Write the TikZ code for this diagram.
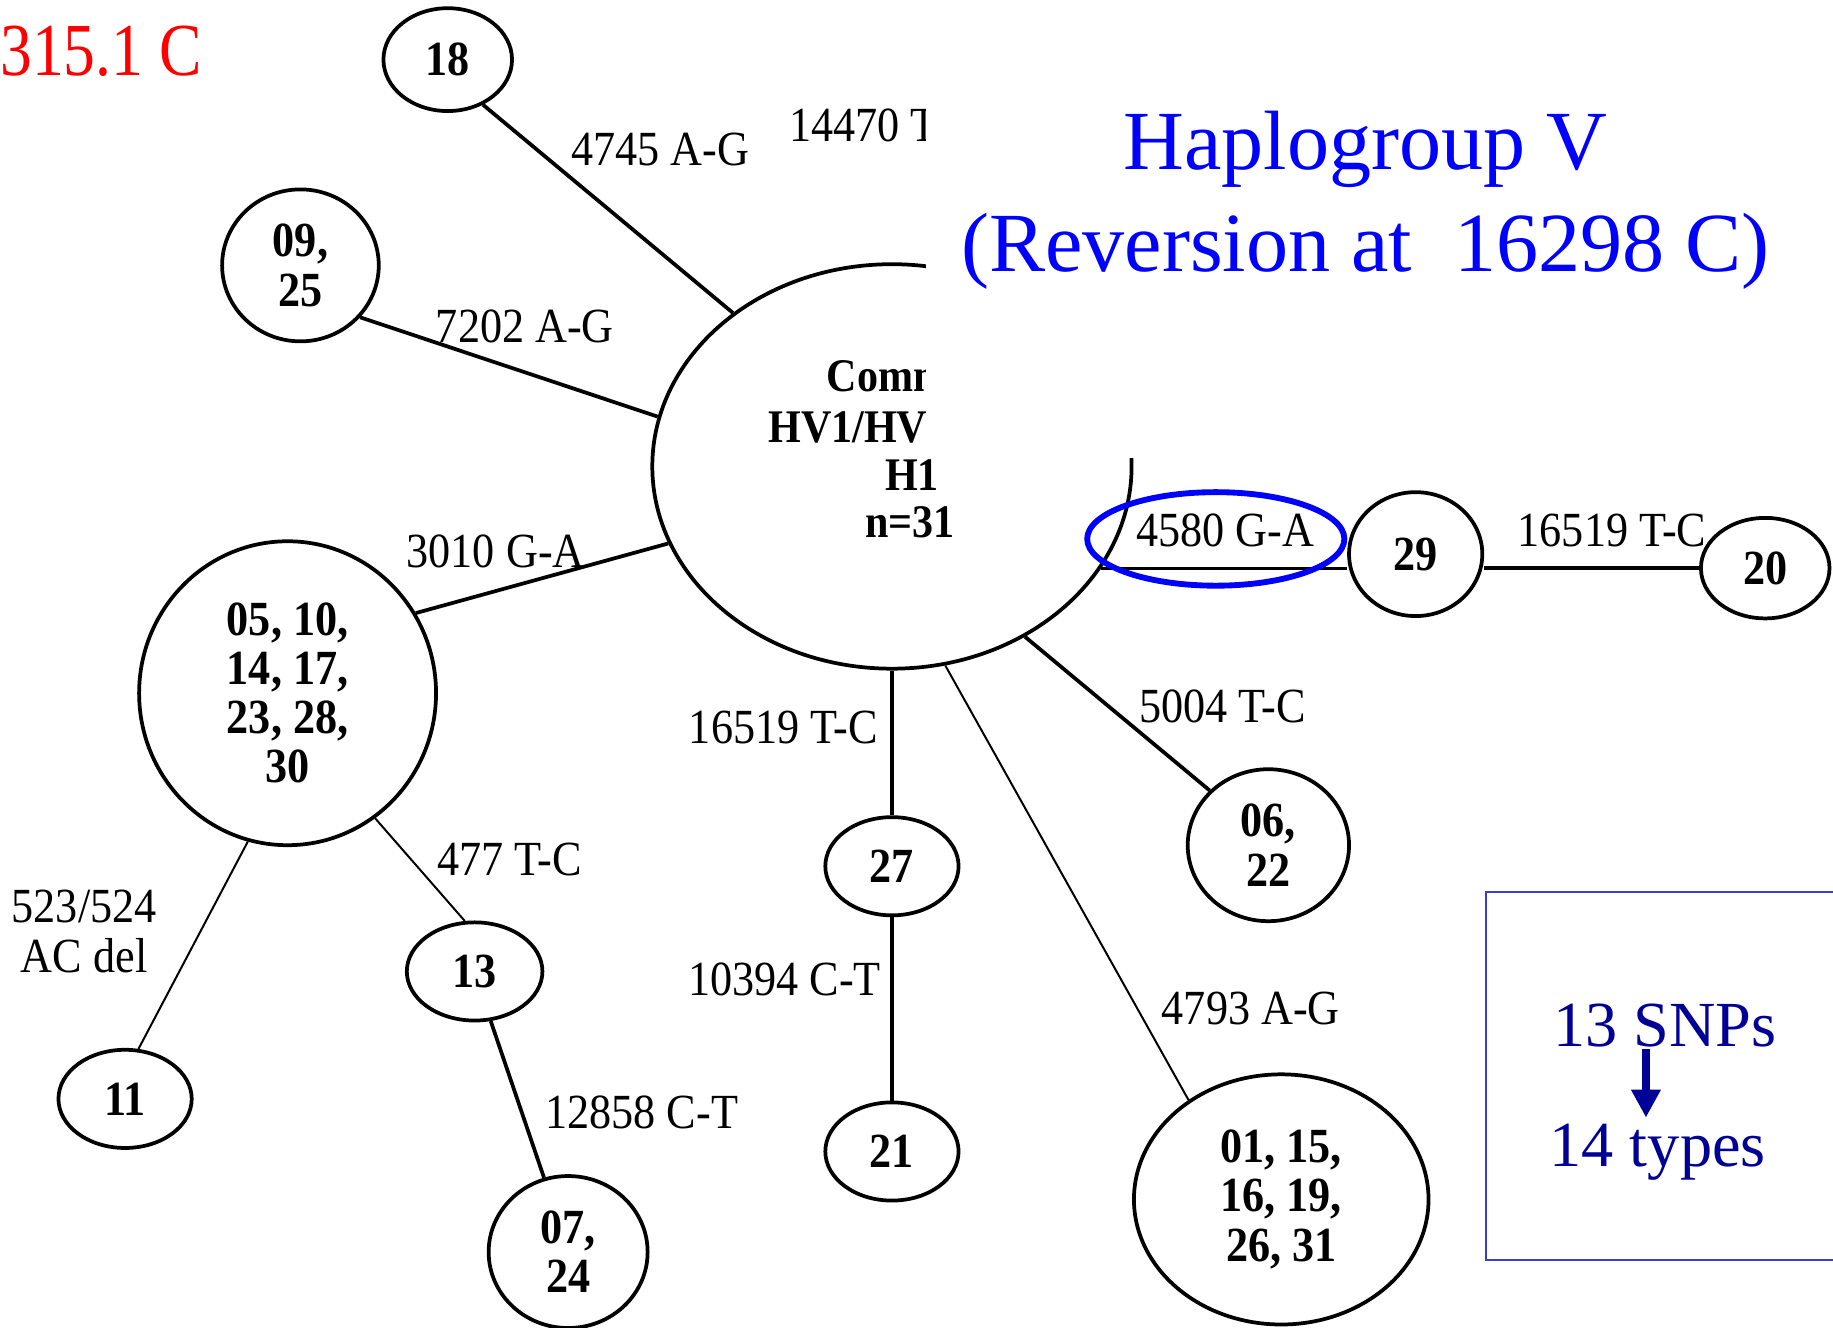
\documentclass[tikz,border=0pt]{standalone}
\usepackage{fontspec}
\setmainfont{Liberation Serif}
\newfontfamily\lbl[FakeStretch=0.9]{Liberation Serif}
\usetikzlibrary{shapes.geometric,arrows.meta}
\definecolor{titleblue}{RGB}{0,0,255}
\definecolor{boxblue}{RGB}{60,60,205}
\definecolor{navy}{RGB}{0,0,150}
\begin{document}
\begin{tikzpicture}[x=1pt,y=-1pt,
  hap/.style={ellipse, draw, line width=3.2pt, fill=white, inner sep=0pt, align=center,
    font=\lbl\bfseries\fontsize{42}{42}\selectfont},
  hubtxt/.style={anchor=west, inner sep=0pt, font=\lbl\bfseries\fontsize{40}{40}\selectfont},
  mut/.style={inner sep=0pt, align=center, font=\lbl\fontsize{42}{43}\selectfont},
  fatline/.style={line width=3.2pt},
  slimline/.style={line width=1.7pt}]
\useasboundingbox (0,0) rectangle (1568,1136);
\fill[white] (0,0) rectangle (1568,1136);

% haplotype nodes
\node[hap, minimum width=410pt, minimum height=346pt] (hub) at (763,399) {};
\node[hap, minimum width=110pt, minimum height=88pt] (n18) at (383,51) {18};
\node[hap, minimum width=134pt, minimum height=130pt] (n0925) at (257,227) {09,\\25};
\node[hap, minimum width=254pt, minimum height=260pt] (nbig) at (246,593) {05, 10,\\14, 17,\\23, 28,\\30};
\node[hap, minimum width=116pt, minimum height=84pt] (n13) at (406,831) {13};
\node[hap, minimum width=114pt, minimum height=84pt] (n11) at (107,940) {11};
\node[hap, minimum width=136pt, minimum height=130pt] (n0724) at (486,1071) {07,\\24};
\node[hap, minimum width=114pt, minimum height=84pt] (n27) at (763,741) {27};
\node[hap, minimum width=114pt, minimum height=84pt] (n21) at (763,985) {21};
\node[hap, minimum width=138pt, minimum height=130pt] (n06) at (1085,723) {06,\\22};
\node[hap, minimum width=252pt, minimum height=214pt] (n01) at (1096,1026) {01, 15,\\16, 19,\\26, 31};
\node[hap, minimum width=114pt, minimum height=106pt] (n29) at (1211,474) {29};
\node[hap, minimum width=110pt, minimum height=86pt] (n20) at (1510,486) {20};

% hub text
\node[hubtxt] (hubA) at (707,322) {Comm};
\node[hubtxt] (hubB) at (657,366) {HV1/HV};
\node[hubtxt] (hubC) at (757,406) {H1};
\node[hubtxt] (hubD) at (740,447) {n=31};

% connectors
\draw[fatline] (n18.-52) -- (hub.136);
\draw[fatline] (n0925.-41) -- (hub.168);
\draw[fatline] (hub.199) -- (nbig.32);
\draw[slimline] (nbig.-55) -- (n13.101);
\draw[slimline] (nbig.-105) -- (n11.75);
\draw[fatline] (n13.-72) -- (n0724.108);
\draw[fatline] (hub.south) -- (n27.north);
\draw[fatline] (n27.south) -- (n21.north);
\draw[slimline] (hub.-75) -- (n01.133);
\draw[fatline] (hub.-52) -- (n06.137);
\draw[fatline] (hub.-26) -- (hub.-26 -| n29.west);
\draw[fatline] (n29.east |- n20.west) -- (n20.west);

% mutation labels
\node[mut] (l4745) at (565,128) {4745 A-G};
\node[mut, anchor=west] (l14470) at (675,107) {14470 T};
\node[mut] (l7202) at (449,279) {7202 A-G};
\node[mut] (l3010) at (424,472) {3010 G-A};
\node[mut] (l4580) at (1048,454) {4580 G-A};
\node[mut] (l16519b) at (1379,454) {16519 T-C};
\node[mut] (l5004) at (1046,604) {5004 T-C};
\node[mut] (l16519a) at (670,622) {16519 T-C};
\node[mut] (l477) at (436,735) {477 T-C};
\node[mut] (l523) at (72,797) {523/524\\AC del};
\node[mut] (l10394) at (671,838) {10394 C-T};
\node[mut] (l4793) at (1070,863) {4793 A-G};
\node[mut] (l12858) at (549,952) {12858 C-T};

\node[anchor=west, inner sep=0pt, text=red, font=\fontsize{64}{64}\selectfont] (red) at (0,44) {\scalebox{0.85}[1]{315.1 C}};

% white overlay
\fill[white] (792,0) rectangle (1568,392);

% title
\node[anchor=base, inner sep=0pt, text=titleblue, font=\fontsize{72}{72}\selectfont] (t1) at (1168,145) {Haplogroup V};
\node[anchor=base, inner sep=0pt, text=titleblue, font=\fontsize{72}{72}\selectfont] (t2) at (1168,232) {(Reversion at\ \ 16298 C)};

% highlight ring
\node[draw=titleblue, line width=5pt, ellipse, inner sep=0pt, minimum width=220pt, minimum height=80pt] (ring) at (1040,461) {};

% summary box
\draw[boxblue, line width=2pt] (1271,763) rectangle (1640,1078);
\node[anchor=base, inner sep=0pt, text=navy, font=\fontsize{55}{55}\selectfont] (snp) at (1424,895) {13 SNPs};
\node[anchor=base, inner sep=0pt, text=navy, font=\fontsize{55}{55}\selectfont] (types) at (1418,998) {14 types};
\coordinate (arrS) at (1408,897);
\coordinate (arrE) at (1408,956);
\draw[navy, line width=7pt, -{Triangle[width=24pt,length=24pt]}] (arrS) -- (arrE);
\end{tikzpicture}
\end{document}
